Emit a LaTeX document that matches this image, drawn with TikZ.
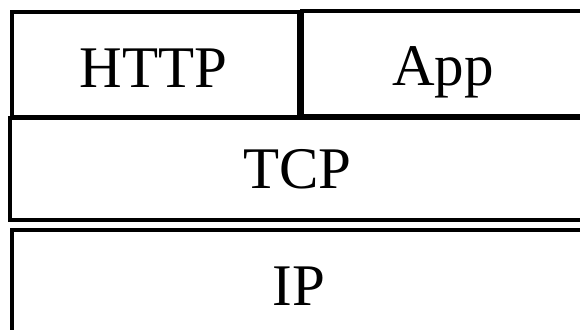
\documentclass[tikz,border=0pt]{standalone}
\usepackage{fontspec}
\setmainfont{Liberation Serif}
\begin{document}
\begin{tikzpicture}[x=1pt,y=-1pt,
  layer/.style={draw=black,line width=4pt},
  lbl/.style={anchor=base,inner sep=0pt,font=\fontsize{59}{70}\selectfont}]
\useasboundingbox (0,0) rectangle (580,329);
\clip (0,0) rectangle (580,329);
\fill[white] (0,0) rectangle (580,329);
% boxes
\draw[layer] (11.5,12.5) rectangle (298.5,117);
\draw[layer] (301.5,11.5) rectangle (620,116);
\draw[layer] (9.5,118) rectangle (620,220);
\draw[layer] (12,230) rectangle (620,360);
% labels
\node[lbl] (http) at (153.5,87) {HTTP};
\node[lbl] (app) at (443,85) {App};
\node[lbl] (tcp) at (297.5,188) {TCP};
\node[lbl] (ip) at (299,305) {IP};
\end{tikzpicture}
\end{document}
